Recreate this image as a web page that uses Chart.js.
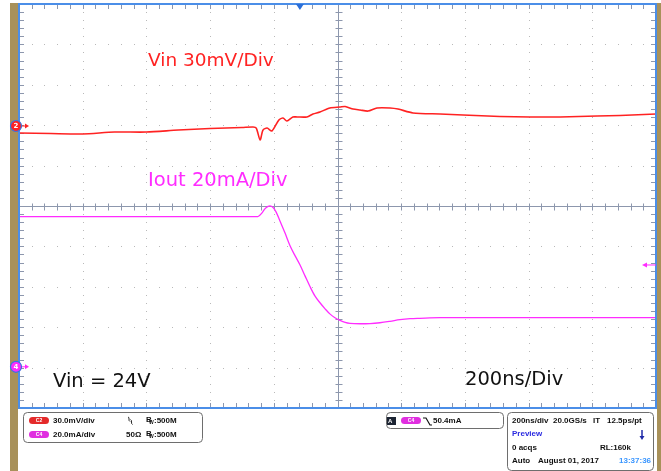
<!DOCTYPE html>
<html lang="en">
<head>
<meta charset="UTF-8">
<title>Vin / Iout load transient</title>
<script src="https://cdn.jsdelivr.net/npm/chart.js"></script>
<style>
  html, body { margin: 0; padding: 0; background: #fff; }
  #wrap { width: 661px; height: 471px; }
</style>
</head>
<body>
<div id="wrap"><canvas id="scope" width="661" height="471"></canvas></div>
<script>
// horizontal: 200 ns/div, 10 divisions
const timeMin = -1000, timeMax = 1000;
const divMin = -5, divMax = 5;

// CH2 Vin, 30 mV/div, mV relative to the channel marker
const vinScale = 30, vinOffsetDiv = 1.98;
const vinTime = [-1000,-900,-800,-700,-600,-500,-400,-300,-265,-255,-243,-234,-221,-206,-184,-171,-159,-140,-127,-96,
                 -77,-55,-24,8,24,49,71,96,124,165,190,237,322,394,510,604,699,815,887,1000];
const vinMv = [-5.2,-5.6,-5.9,-4.5,-4.5,-3.0,-1.9,-1.1,-0.7,-1.5,-10.4,-3.0,-1.5,-3.7,4.5,5.9,3.7,6.7,6.7,6.7,
               8.9,10.4,13.4,14.1,14.5,12.6,11.9,11.1,13.4,13.4,12.6,9.7,8.9,8.2,7.1,6.7,6.7,7.4,7.8,8.9];

// CH4 Iout, 20 mA/div
const ioutScale = 20, ioutOffsetDiv = -3.98;
const ioutTime = [-1000,-250,-237,-228,-218,-212,-203,-193,-181,-165,-149,-133,-118,-102,-86,-71,-55,-39,-24,-8,
                  8,24,39,71,102,133,165,196,228,259,322,510,1000];
const ioutMa = [74.3,74.3,76.2,78.2,79.4,79.7,79.0,76.7,72.3,66.3,59.9,54.9,50.5,45.0,39.6,35.1,31.7,28.7,26.2,24.3,
                23.0,22.0,21.5,21.3,21.4,21.8,22.5,23.3,23.8,24.0,24.3,24.3,24.3];

// trigger
const triggerTime = -118, triggerLevel = 50.4;

const red = '#ff2222', magenta = '#ff2cff';

function toPoints(t, v, scale, offset) {
  return t.map((x, i) => ({ x: x, y: offset + v[i] / scale }));
}

function rrect(ctx, x, y, w, h, r) {
  ctx.beginPath();
  ctx.moveTo(x + r, y);
  ctx.arcTo(x + w, y, x + w, y + h, r);
  ctx.arcTo(x + w, y + h, x, y + h, r);
  ctx.arcTo(x, y + h, x, y, r);
  ctx.arcTo(x, y, x + w, y, r);
  ctx.closePath();
}

function pill(ctx, x, y, color, label) {
  ctx.fillStyle = color;
  rrect(ctx, x, y, 20, 7, 3.5);
  ctx.fill();
  ctx.fillStyle = '#fff';
  ctx.font = 'bold 5px "Liberation Sans"';
  ctx.textAlign = 'center';
  ctx.textBaseline = 'middle';
  ctx.fillText(label, x + 10, y + 3.8);
}

const scopePlugin = {
  id: 'scope',
  beforeDatasetsDraw(chart) {
    const ctx = chart.ctx;
    const a = chart.chartArea;
    const xs = chart.scales.x, ys = chart.scales.y;
    ctx.save();
    // side strips
    ctx.fillStyle = '#a8915a';
    ctx.fillRect(10, 3, 8, 468);
    ctx.fillRect(657, 3, 4, 468);

    // dotted graticule
    ctx.fillStyle = '#b9b9b9';
    for (let i = -4; i <= 4; i++) {
      if (i === 0) continue;
      const px = Math.round(xs.getPixelForValue(i * 200));
      for (let d = divMin; d <= divMax + 0.001; d += 0.2) {
        ctx.fillRect(px, Math.round(ys.getPixelForValue(d)), 1, 1);
      }
    }
    for (let k = -4; k <= 4; k++) {
      if (k === 0) continue;
      const py = Math.round(ys.getPixelForValue(k));
      for (let t = timeMin; t <= timeMax + 0.001; t += 40) {
        ctx.fillRect(Math.round(xs.getPixelForValue(t)), py, 1, 1);
      }
    }

    // center axes with minor ticks
    ctx.strokeStyle = '#8d97ad';
    ctx.lineWidth = 1;
    const cx = Math.round(xs.getPixelForValue(0)) + 0.5;
    const cy = Math.round(ys.getPixelForValue(0)) + 0.5;
    ctx.beginPath();
    ctx.moveTo(cx, a.top); ctx.lineTo(cx, a.bottom);
    ctx.moveTo(a.left, cy); ctx.lineTo(a.right, cy);
    for (let d = divMin; d <= divMax + 0.001; d += 0.2) {
      const py = Math.round(ys.getPixelForValue(d)) + 0.5;
      ctx.moveTo(cx - 3, py); ctx.lineTo(cx + 4, py);
      ctx.moveTo(a.left, py); ctx.lineTo(a.left + 5, py);
      ctx.moveTo(a.right - 5, py); ctx.lineTo(a.right, py);
    }
    for (let t = timeMin; t <= timeMax + 0.001; t += 40) {
      const px = Math.round(xs.getPixelForValue(t)) + 0.5;
      ctx.moveTo(px, cy - 3); ctx.lineTo(px, cy + 4);
      ctx.moveTo(px, a.top); ctx.lineTo(px, a.top + 5);
      ctx.moveTo(px, a.bottom - 5); ctx.lineTo(px, a.bottom);
    }
    ctx.stroke();
    ctx.restore();
  },
  afterDatasetsDraw(chart) {
    const ctx = chart.ctx;
    const a = chart.chartArea;
    const xs = chart.scales.x, ys = chart.scales.y;
    ctx.save();

    // frame
    ctx.strokeStyle = '#4b8ee8';
    ctx.lineWidth = 2;
    ctx.strokeRect(a.left, a.top, a.right - a.left, a.bottom - a.top);

    // trigger position marker
    const tx = xs.getPixelForValue(triggerTime);
    ctx.fillStyle = '#2c6fd8';
    ctx.beginPath();
    ctx.moveTo(tx - 4, a.top); ctx.lineTo(tx + 4, a.top); ctx.lineTo(tx, a.top + 6);
    ctx.closePath(); ctx.fill();

    // trigger level arrow
    const ty = ys.getPixelForValue(ioutOffsetDiv + triggerLevel / ioutScale);
    ctx.strokeStyle = magenta; ctx.fillStyle = magenta; ctx.lineWidth = 1;
    ctx.beginPath(); ctx.moveTo(646, ty); ctx.lineTo(a.right, ty); ctx.stroke();
    ctx.beginPath(); ctx.moveTo(642, ty); ctx.lineTo(647, ty - 2.5); ctx.lineTo(647, ty + 2.5); ctx.closePath(); ctx.fill();

    // channel markers
    const marker = (div, color, label) => {
      const my = ys.getPixelForValue(div);
      ctx.fillStyle = color; ctx.strokeStyle = color; ctx.lineWidth = 1;
      ctx.beginPath(); ctx.moveTo(20, my); ctx.lineTo(26, my); ctx.stroke();
      ctx.beginPath(); ctx.moveTo(29, my); ctx.lineTo(25, my - 2.5); ctx.lineTo(25, my + 2.5); ctx.closePath(); ctx.fill();
      ctx.beginPath(); ctx.arc(16, my, 5.5, 0, Math.PI * 2); ctx.fill();
      ctx.strokeStyle = '#3a74e0'; ctx.lineWidth = 1.2; ctx.stroke();
      ctx.fillStyle = '#fff';
      ctx.font = 'bold 7px "DejaVu Sans"';
      ctx.textAlign = 'center'; ctx.textBaseline = 'middle';
      ctx.fillText(label, 16, my + 0.5);
    };
    marker(vinOffsetDiv, red, '2');
    marker(ioutOffsetDiv, magenta, '4');

    // annotations
    ctx.textAlign = 'left'; ctx.textBaseline = 'alphabetic';
    ctx.fillStyle = red; ctx.font = '18.5px "DejaVu Sans"';
    ctx.fillText('Vin 30mV/Div', 148, 66);
    ctx.fillStyle = magenta; ctx.font = '19.5px "DejaVu Sans"';
    ctx.fillText('Iout 20mA/Div', 148, 186);
    ctx.fillStyle = '#111'; ctx.font = '19.5px "DejaVu Sans"';
    ctx.fillText('Vin = 24V', 53, 387);
    ctx.fillText('200ns/Div', 465, 385);

    // readout panel
    ctx.strokeStyle = '#6e6e6e'; ctx.lineWidth = 1;
    rrect(ctx, 23.5, 412.5, 179, 30, 4); ctx.stroke();
    rrect(ctx, 386.5, 412.5, 117, 16, 4); ctx.stroke();
    rrect(ctx, 507.5, 412.5, 146, 58, 4); ctx.stroke();

    pill(ctx, 29, 417, '#e42a2a', 'C2');
    pill(ctx, 29, 431, '#e02ee0', 'C4');
    pill(ctx, 401, 417, '#e02ee0', 'C4');

    ctx.fillStyle = '#111';
    ctx.font = 'bold 8px "Liberation Sans"';
    ctx.textAlign = 'left'; ctx.textBaseline = 'middle';
    ctx.fillText('30.0mV/div', 53, 421);
    ctx.fillText('20.0mA/div', 53, 435);
    ctx.fillText('50\u03A9', 126, 435);
    const bw = (x, y) => {
      ctx.font = 'bold 8px "Liberation Sans"';
      ctx.fillText('B', x, y - 1);
      ctx.font = 'bold 5px "Liberation Sans"';
      ctx.fillText('W', x + 3, y + 2);
      ctx.font = 'bold 8px "Liberation Sans"';
      ctx.fillText(':500M', x + 8, y);
    };
    bw(146, 421);
    bw(146, 435);
    // AC coupling glyph
    ctx.strokeStyle = '#111'; ctx.lineWidth = 0.9;
    ctx.beginPath();
    ctx.moveTo(128, 417); ctx.bezierCurveTo(130, 417, 128, 421, 130, 421.5);
    ctx.moveTo(130.5, 419.5); ctx.bezierCurveTo(132.5, 420, 130.5, 424, 132.5, 424.5);
    ctx.stroke();

    // trigger readout
    ctx.fillStyle = '#1c2433'; ctx.fillRect(387, 417, 9, 8);
    ctx.fillStyle = '#fff'; ctx.font = 'bold 6px "Liberation Sans"';
    ctx.fillText('A', 388, 421.5);
    ctx.strokeStyle = '#111'; ctx.lineWidth = 1.2;
    ctx.beginPath(); ctx.moveTo(423, 418); ctx.lineTo(426, 418); ctx.lineTo(430, 425); ctx.lineTo(432, 425); ctx.stroke();
    ctx.fillStyle = '#111'; ctx.font = 'bold 8px "Liberation Sans"';
    ctx.fillText('50.4mA', 433, 420.5);

    // acquisition readout
    ctx.fillText('200ns/div', 512, 420.5);
    ctx.fillText('20.0GS/s', 553, 420.5);
    ctx.fillText('IT', 593, 420.5);
    ctx.fillText('12.5ps/pt', 607, 420.5);
    ctx.fillStyle = '#2a2ae0';
    ctx.fillText('Preview', 512, 434);
    ctx.fillStyle = '#111';
    ctx.fillText('0 acqs', 512, 447.5);
    ctx.textAlign = 'right';
    ctx.fillText('RL:160k', 631, 447.5);
    ctx.textAlign = 'left';
    ctx.fillText('Auto', 512, 460.5);
    ctx.fillText('August 01, 2017', 538, 460.5);
    ctx.fillStyle = '#3a96ff';
    ctx.fillText('13:37:36', 619, 460.5);
    // run/stop arrow
    ctx.strokeStyle = '#1f2aa8'; ctx.fillStyle = '#1f2aa8'; ctx.lineWidth = 1.5;
    ctx.beginPath(); ctx.moveTo(642, 430); ctx.lineTo(642, 437); ctx.stroke();
    ctx.beginPath(); ctx.moveTo(639.5, 436); ctx.lineTo(644.5, 436); ctx.lineTo(642, 440); ctx.closePath(); ctx.fill();

    ctx.restore();
  }
};

new Chart(document.getElementById('scope'), {
  type: 'line',
  data: {
    datasets: [
      {
        label: 'Vin',
        data: toPoints(vinTime, vinMv, vinScale, vinOffsetDiv),
        borderColor: red,
        borderWidth: 1.6,
        pointRadius: 0,
        tension: 0.25
      },
      {
        label: 'Iout',
        data: toPoints(ioutTime, ioutMa, ioutScale, ioutOffsetDiv),
        borderColor: magenta,
        borderWidth: 1.3,
        pointRadius: 0,
        cubicInterpolationMode: 'monotone'
      }
    ]
  },
  options: {
    responsive: false,
    animation: false,
    devicePixelRatio: 1,
    layout: { padding: { left: 19, right: 5, top: 4, bottom: 63 } },
    plugins: { legend: { display: false }, tooltip: { enabled: false } },
    scales: {
      x: { type: 'linear', min: timeMin, max: timeMax, display: false },
      y: { type: 'linear', min: divMin, max: divMax, display: false }
    }
  },
  plugins: [scopePlugin]
});
</script>
</body>
</html>
